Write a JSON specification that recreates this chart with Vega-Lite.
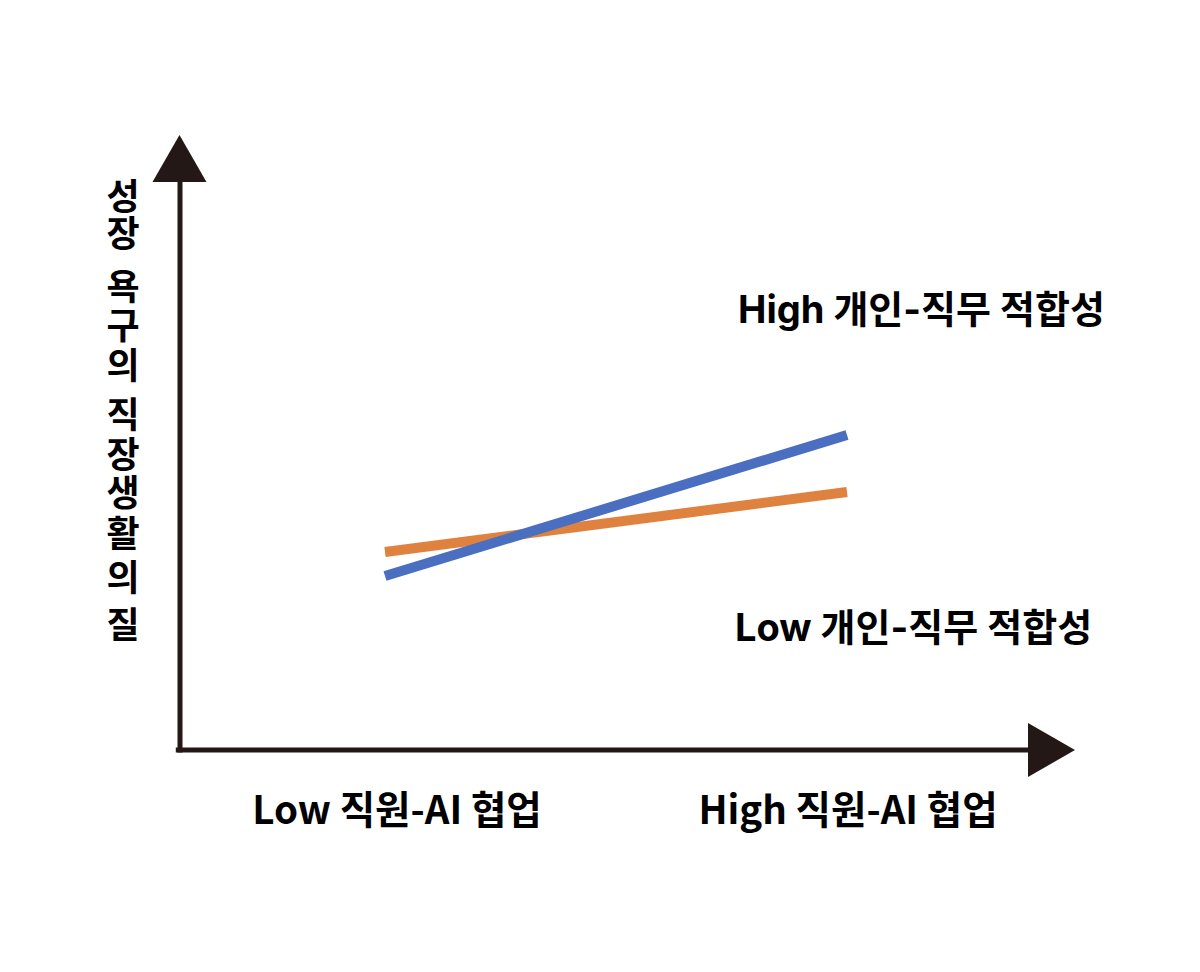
{
  "$schema": "https://vega.github.io/schema/vega-lite/v6.json",
  "width": 1200,
  "height": 972,
  "autosize": {"type": "fit", "contains": "padding"},
  "padding": 0,
  "background": "white",
  "config": {"view": {"stroke": null}},
  "datasets": {
    "axes": [
      {"x": 0, "y": 0, "x2": 0, "y2": 9.45},
      {"x": -0.02, "y": 0, "x2": 10.0, "y2": 0}
    ],
    "arrows": [
      {"x": -0.006, "y": 9.86, "dir": "up"},
      {"x": 10.253, "y": 0, "dir": "right"}
    ],
    "lines": [
      {"fit": "Low", "collab": "Low", "x": 2.412, "y": 3.3},
      {"fit": "Low", "collab": "High", "x": 7.847, "y": 4.3},
      {"fit": "High", "collab": "Low", "x": 2.412, "y": 2.9},
      {"fit": "High", "collab": "High", "x": 7.847, "y": 5.25}
    ],
    "fitLabels": [
      {"label": "High 개인-직무 적합성", "x": 6.565, "y": 7.3},
      {"label": "Low 개인-직무 적합성", "x": 6.53, "y": 2.0}
    ],
    "collabLabels": [
      {"label": "Low 직원-AI 협업", "x": 2.553, "y": -1.03},
      {"label": "High 직원-AI 협업", "x": 7.859, "y": -1.03}
    ],
    "yTitle": [
      {"ch": "성", "x": -0.67, "y": 9.217},
      {"ch": "장", "x": -0.67, "y": 8.6},
      {"ch": "욕", "x": -0.67, "y": 7.717},
      {"ch": "구", "x": -0.67, "y": 7.067},
      {"ch": "의", "x": -0.67, "y": 6.4},
      {"ch": "직", "x": -0.67, "y": 5.583},
      {"ch": "장", "x": -0.67, "y": 4.917},
      {"ch": "생", "x": -0.67, "y": 4.283},
      {"ch": "활", "x": -0.67, "y": 3.6},
      {"ch": "의", "x": -0.67, "y": 2.867},
      {"ch": "질", "x": -0.67, "y": 2.083}
    ]
  },
  "layer": [
    {
      "data": {"name": "axes"},
      "mark": {"type": "rule", "color": "#231815", "strokeWidth": 5, "strokeCap": "square"},
      "encoding": {
        "x": {"field": "x", "type": "quantitative", "scale": {"domain": [-2.1176, 12], "nice": false, "zero": false}, "axis": null},
        "y": {"field": "y", "type": "quantitative", "scale": {"domain": [-3.7, 12.5], "nice": false, "zero": false}, "axis": null},
        "x2": {"field": "x2"},
        "y2": {"field": "y2"}
      }
    },
    {
      "data": {"name": "arrows"},
      "mark": {"type": "point", "filled": true, "opacity": 1, "size": 2916, "color": "#231815", "strokeWidth": 0},
      "encoding": {
        "x": {"field": "x", "type": "quantitative", "axis": null},
        "y": {"field": "y", "type": "quantitative", "axis": null},
        "shape": {"field": "dir", "type": "nominal", "legend": null,
          "scale": {"domain": ["up", "right"], "range": ["M-1,0.87L0,-0.87L1,0.87Z", "M-0.87,-1L0.87,0L-0.87,1Z"]}}
      }
    },
    {
      "data": {"name": "lines"},
      "transform": [{"filter": "datum.fit === 'Low'"}],
      "mark": {"type": "line", "strokeWidth": 10, "strokeCap": "butt", "color": "#E0823F"},
      "encoding": {
        "x": {"field": "x", "type": "quantitative", "axis": null},
        "y": {"field": "y", "type": "quantitative", "axis": null}
      }
    },
    {
      "data": {"name": "lines"},
      "transform": [{"filter": "datum.fit === 'High'"}],
      "mark": {"type": "line", "strokeWidth": 10, "strokeCap": "butt", "color": "#4A6EC0"},
      "encoding": {
        "x": {"field": "x", "type": "quantitative", "axis": null},
        "y": {"field": "y", "type": "quantitative", "axis": null}
      }
    },
    {
      "data": {"name": "fitLabels"},
      "mark": {"type": "text", "align": "left", "baseline": "middle", "font": "Inter, Noto Sans CJK KR", "fontWeight": "bold", "fontSize": 38, "color": "#000000"},
      "encoding": {
        "x": {"field": "x", "type": "quantitative", "axis": null},
        "y": {"field": "y", "type": "quantitative", "axis": null},
        "text": {"field": "label"}
      }
    },
    {
      "data": {"name": "collabLabels"},
      "mark": {"type": "text", "align": "center", "baseline": "middle", "font": "Noto Sans CJK KR", "fontWeight": "bold", "fontSize": 38.5, "color": "#000000"},
      "encoding": {
        "x": {"field": "x", "type": "quantitative", "axis": null},
        "y": {"field": "y", "type": "quantitative", "axis": null},
        "text": {"field": "label"}
      }
    },
    {
      "data": {"name": "yTitle"},
      "mark": {"type": "text", "align": "center", "baseline": "middle", "dy": 2, "font": "Noto Sans CJK KR", "fontWeight": "bold", "fontSize": 36, "color": "#000000"},
      "encoding": {
        "x": {"field": "x", "type": "quantitative", "axis": null},
        "y": {"field": "y", "type": "quantitative", "axis": null},
        "text": {"field": "ch"}
      }
    }
  ]
}
